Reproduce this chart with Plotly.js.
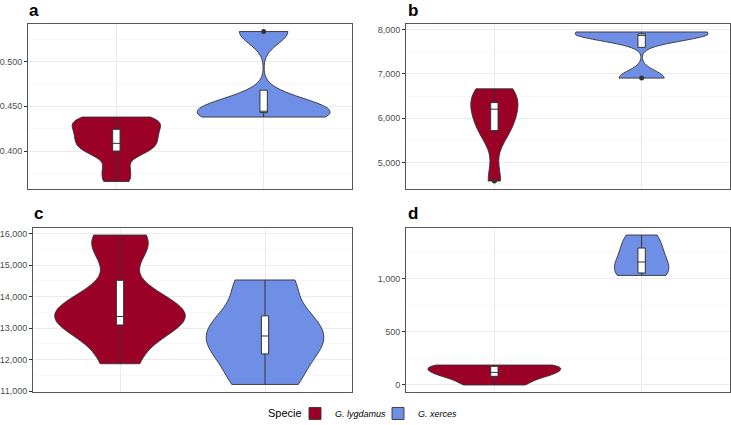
<!DOCTYPE html>
<html>
<head>
<meta charset="utf-8">
<script src="https://cdn.plot.ly/plotly-3.0.1.min.js"></script>
<style>
  html, body { margin: 0; padding: 0; background: #ffffff; }
  #chart { width: 731px; height: 425px; }
</style>
</head>
<body>
<div id="chart"></div>
<script>
// species (x categories)
const species = ['G. lygdamus', 'G. xerces'];

// violin samples per panel
const aLygdamus = [0.366, 0.380, 0.397, 0.402, 0.407, 0.412, 0.417, 0.422, 0.427, 0.432, 0.436, 0.438];
const aXerces = [0.438, 0.442, 0.452, 0.5336];
const bLygdamus = [4584, 5650, 5850, 6150, 6350, 6550, 6665];
const bXerces = [6907, 7880, 7920, 7948];
const cLygdamus = [11868, 13000, 13200, 13370, 13600, 14000, 15500, 15958];
const cXerces = [11210, 12200, 12750, 13370, 14530];
const dLygdamus = [0, 81, 118, 175, 187];
const dXerces = [1028, 1051, 1154, 1285, 1407];

// box stats: lower whisker, q1, median, q3, upper whisker
const aLygBox = [0.366, 0.400, 0.4086, 0.4243, 0.438];
const aXerBox = [0.438, 0.443, 0.4445, 0.468, 0.468];
const bLygBox = [5625, 5722, 6206, 6355, 6665];
const bXerBox = [7600, 7600, 7870, 7905, 7948];
const cLygBox = [11853, 13100, 13370, 14520, 15958];
const cXerBox = [11210, 12180, 12750, 13390, 14530];
const dLygBox = [0, 81, 118, 175, 187];
const dXerBox = [1028, 1051, 1154, 1285, 1407];

// outlier points
const aOutX = ['G. xerces'];
const aOutY = [0.5336];
const bOutX = ['G. lygdamus', 'G. xerces'];
const bOutY = [4584, 6907];

const colors = ['#9B0026', '#6E8FE5'];
const lineCol = '#333333';

const traces = [];

function addViolin(sample, i, ax, bw, w, legend) {
    traces.push({
        type: 'violin',
        x: sample.map(() => species[i]),
        y: sample,
        name: '<i>' + species[i] + '</i>',
        legendgroup: species[i],
        showlegend: legend,
        xaxis: 'x' + ax, yaxis: 'y' + ax,
        bandwidth: bw,
        width: w,
        spanmode: 'hard',
        scalemode: 'width',
        points: false,
        box: { visible: false },
        meanline: { visible: false },
        fillcolor: colors[i],
        line: { color: lineCol, width: 0.9 },
        hoverinfo: 'skip'
    });
}

function addBox(s, i, ax) {
    traces.push({
        type: 'box',
        x: [species[i]],
        lowerfence: [s[0]], q1: [s[1]], median: [s[2]], q3: [s[3]], upperfence: [s[4]],
        xaxis: 'x' + ax, yaxis: 'y' + ax,
        width: 0.05,
        whiskerwidth: 0,
        fillcolor: '#ffffff',
        line: { color: lineCol, width: 1 },
        showlegend: false,
        hoverinfo: 'skip'
    });
}

function addOutliers(xs, ys, ax) {
    traces.push({
        type: 'scatter', mode: 'markers',
        x: xs, y: ys,
        xaxis: 'x' + ax, yaxis: 'y' + ax,
        marker: { color: lineCol, size: 5 },
        showlegend: false,
        hoverinfo: 'skip'
    });
}

// panel a
addViolin(aLygdamus, 0, '', 0.008, 0.60, true);
addViolin(aXerces, 1, '', 0.0135, 0.90, true);
addBox(aLygBox, 0, '');
addBox(aXerBox, 1, '');
addOutliers(aOutX, aOutY, '');
// panel b
addViolin(bLygdamus, 0, '2', 350, 0.32, false);
addViolin(bXerces, 1, '2', 165, 0.90, false);
addBox(bLygBox, 0, '2');
addBox(bXerBox, 1, '2');
addOutliers(bOutX, bOutY, '2');
// panel c
addViolin(cLygdamus, 0, '3', 600, 0.90, false);
addViolin(cXerces, 1, '3', 600, 0.81, false);
addBox(cLygBox, 0, '3');
addBox(cXerBox, 1, '3');
// panel d
addViolin(dLygdamus, 0, '4', 46, 0.90, false);
addViolin(dXerces, 1, '4', 114, 0.37, false);
addBox(dLygBox, 0, '4');
addBox(dXerBox, 1, '4');

const W = 731, H = 425;
const fam = 'Liberation Sans, Arial, sans-serif';
const tickFont = { family: fam, size: 9, color: '#4D4D4D' };

function xAx(left, right, anchor) {
    return {
        domain: [left / W, right / W],
        anchor: anchor,
        type: 'category', categoryarray: species,
        range: [-0.6, 1.6],
        showticklabels: false, ticks: '',
        showgrid: true, gridcolor: '#EBEBEB', gridwidth: 1,
        showline: true, mirror: true, linecolor: '#555555', linewidth: 1,
        zeroline: false, fixedrange: true
    };
}

function yAx(top, bottom, anchor, range, dtick, fmt) {
    return {
        domain: [1 - bottom / H, 1 - top / H],
        anchor: anchor,
        range: range,
        tick0: 0, dtick: dtick,
        tickformat: fmt,
        tickfont: tickFont,
        ticks: 'outside', ticklen: 3, tickcolor: '#333333', tickwidth: 1,
        showgrid: true, gridcolor: '#EBEBEB', gridwidth: 1,
        minor: { dtick: dtick / 2, tick0: 0, showgrid: true, gridcolor: '#F3F3F3', gridwidth: 0.6, ticks: '' },
        showline: true, mirror: true, linecolor: '#555555', linewidth: 1,
        zeroline: false, fixedrange: true
    };
}

const labelFont = { family: fam, size: 17, color: '#000000' };

const annotations = [
    { text: '<b>a</b>', x: 27 / W, y: 1 - 10 / H, font: labelFont },
    { text: '<b>b</b>', x: 406 / W, y: 1 - 10 / H, font: labelFont },
    { text: '<b>c</b>', x: 32 / W, y: 1 - 213 / H, font: labelFont },
    { text: '<b>d</b>', x: 406 / W, y: 1 - 213 / H, font: labelFont },
    { text: 'Specie', x: 266 / W, y: 1 - 413 / H, font: { family: fam, size: 11, color: '#000000' } }
].map(a => Object.assign(a, {
    xref: 'paper', yref: 'paper', xanchor: 'left', yanchor: 'middle', showarrow: false
}));

const layout = {
    width: W, height: H,
    margin: { l: 0, r: 0, t: 0, b: 0, autoexpand: false },
    paper_bgcolor: '#ffffff', plot_bgcolor: '#ffffff',
    violinmode: 'overlay', boxmode: 'overlay',
    xaxis: xAx(28, 352, 'y'), yaxis: yAx(24, 189, 'x', [0.3576, 0.5420], 0.05, '.3f'),
    xaxis2: xAx(406, 730, 'y2'), yaxis2: yAx(24, 189, 'x2', [4404, 8128], 1000, ',d'),
    xaxis3: xAx(33, 352, 'y3'), yaxis3: yAx(228, 392, 'x3', [10970, 16182], 1000, ',d'),
    xaxis4: xAx(406, 730, 'y4'), yaxis4: yAx(228, 392, 'x4', [-66, 1473], 500, ',d'),
    annotations: annotations,
    showlegend: true,
    legend: {
        orientation: 'h',
        x: 295 / W, xanchor: 'left',
        y: -0.007, yanchor: 'bottom',
        entrywidth: 38, entrywidthmode: 'pixels',
        font: { family: fam, size: 9, color: '#000000' },
        bgcolor: 'rgba(0,0,0,0)'
    }
};

Plotly.newPlot('chart', traces, layout, { displayModeBar: false, staticPlot: true });
</script>
</body>
</html>
